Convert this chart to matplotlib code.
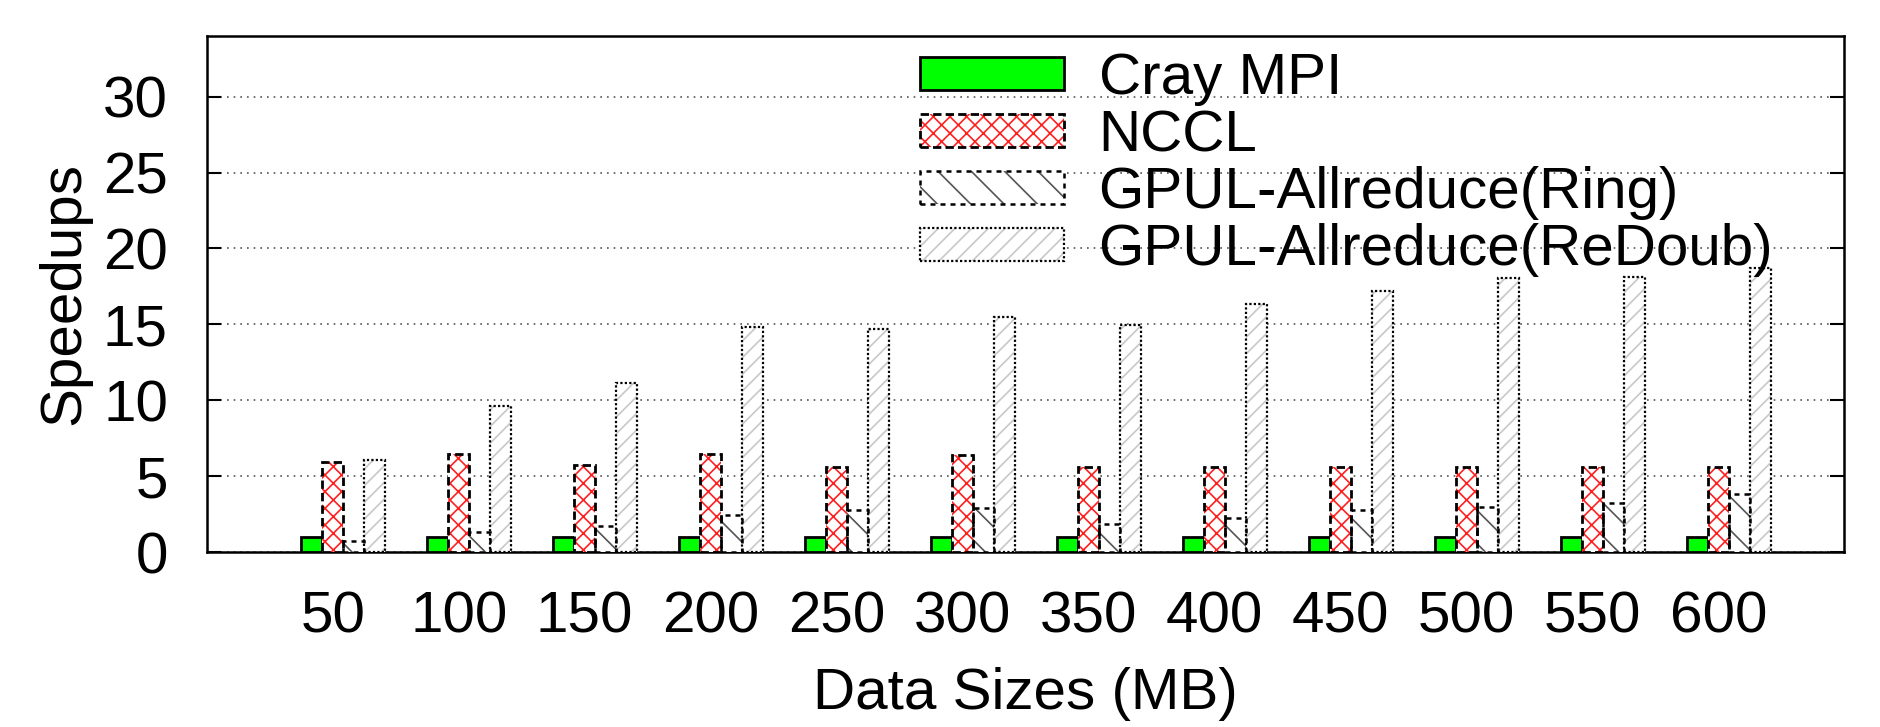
import numpy as np
import matplotlib.pyplot as plt
from matplotlib.patches import Patch
from matplotlib.legend_handler import HandlerTuple

plt.rcParams['font.family'] = ['Liberation Sans', 'DejaVu Sans']
plt.rcParams['hatch.linewidth'] = 1.2

# data
sizes = ['50', '100', '150', '200', '250', '300', '350', '400', '450', '500', '550', '600']
cray = [1.0] * 12
nccl = [5.95, 6.45, 5.75, 6.43, 5.61, 6.38, 5.61, 5.61, 5.61, 5.58, 5.58, 5.58]
ring = [0.72, 1.32, 1.71, 2.43, 2.78, 2.92, 1.82, 2.21, 2.76, 2.94, 3.2, 3.82]
redoub = [6.08, 9.59, 11.12, 14.82, 14.71, 15.48, 14.93, 16.32, 17.19, 18.05, 18.11, 18.73]
labels = ['Cray MPI', 'NCCL', 'GPUL-Allreduce(Ring)', 'GPUL-Allreduce(ReDoub)']

# styles: (offset, values, hatch colour, hatch, edge linestyle, edge width)
x = np.arange(len(sizes))
w = 1 / 6
FS = 42

fig = plt.figure(figsize=(18.8, 7.27), dpi=100)
ax = fig.add_axes([0.110, 0.2407, 0.871, 0.7098])

nccl_ls = (0, (3, 1.5))
ring_ls = (0, (2, 2))
redoub_ls = (0, (1, 1))

# Cray MPI - solid green
ax.bar(x - w, cray, w, color='#00ff00', edgecolor='black', linewidth=2.0, zorder=3)
# NCCL - red crosshatch with dashed black border
ax.bar(x, nccl, w, color='white', edgecolor='#ff2020', hatch='xx', linewidth=0, zorder=3)
ax.bar(x, nccl, w, fill=False, edgecolor='black', linewidth=2.0, linestyle=nccl_ls, zorder=4)
# Ring - sparse back diagonal
ax.bar(x + w, ring, w, color='white', edgecolor='#555555', hatch='\\', linewidth=0, zorder=3)
ax.bar(x + w, ring, w, fill=False, edgecolor='black', linewidth=1.8, linestyle=ring_ls, zorder=4)
# ReDoub - light grey diagonal with dotted border
ax.bar(x + 2 * w, redoub, w, color='white', edgecolor='#c8c8c8', hatch='//', linewidth=0, zorder=3)
ax.bar(x + 2 * w, redoub, w, fill=False, edgecolor='black', linewidth=1.6, linestyle=redoub_ls, zorder=4)

ax.set_xlim(-1, 12)
ax.set_ylim(0, 34)
ax.set_xticks(x)
ax.set_xticklabels(sizes)
ax.set_yticks(np.arange(0, 31, 5))
ax.tick_params(axis='both', direction='in', labelsize=FS, length=10, width=1.5, pad=28,
               top=True, right=True)
ax.tick_params(axis='x', length=0)
ax.grid(axis='y', linestyle=(0, (1, 3)), color='#555555', linewidth=1.2, zorder=0)
for s in ax.spines.values():
    s.set_linewidth(1.8)

ax.set_xlabel('Data Sizes (MB)', fontsize=FS, labelpad=16)
ax.set_ylabel('Speedups', fontsize=FS, labelpad=8)

# legend: hatch patch + outline patch overlaid
handles = [
    Patch(facecolor='#00ff00', edgecolor='black', linewidth=2.0),
    (Patch(facecolor='white', edgecolor='#ff2020', hatch='xx', linewidth=0),
     Patch(fill=False, edgecolor='black', linewidth=2.0, linestyle=nccl_ls)),
    (Patch(facecolor='white', edgecolor='#555555', hatch='\\', linewidth=0),
     Patch(fill=False, edgecolor='black', linewidth=1.8, linestyle=ring_ls)),
    (Patch(facecolor='white', edgecolor='#c8c8c8', hatch='//', linewidth=0),
     Patch(fill=False, edgecolor='black', linewidth=1.6, linestyle=redoub_ls)),
]
ax.legend(handles, labels, loc='upper left', bbox_to_anchor=(0.432, 0.98),
          handler_map={tuple: HandlerTuple(ndivide=1, pad=0)},
          fontsize=FS, frameon=False, handlelength=2.46, handleheight=0.5,
          handletextpad=0.6, labelspacing=0.05, borderpad=0.1, borderaxespad=0)

fig.savefig('out.png', dpi=100)
